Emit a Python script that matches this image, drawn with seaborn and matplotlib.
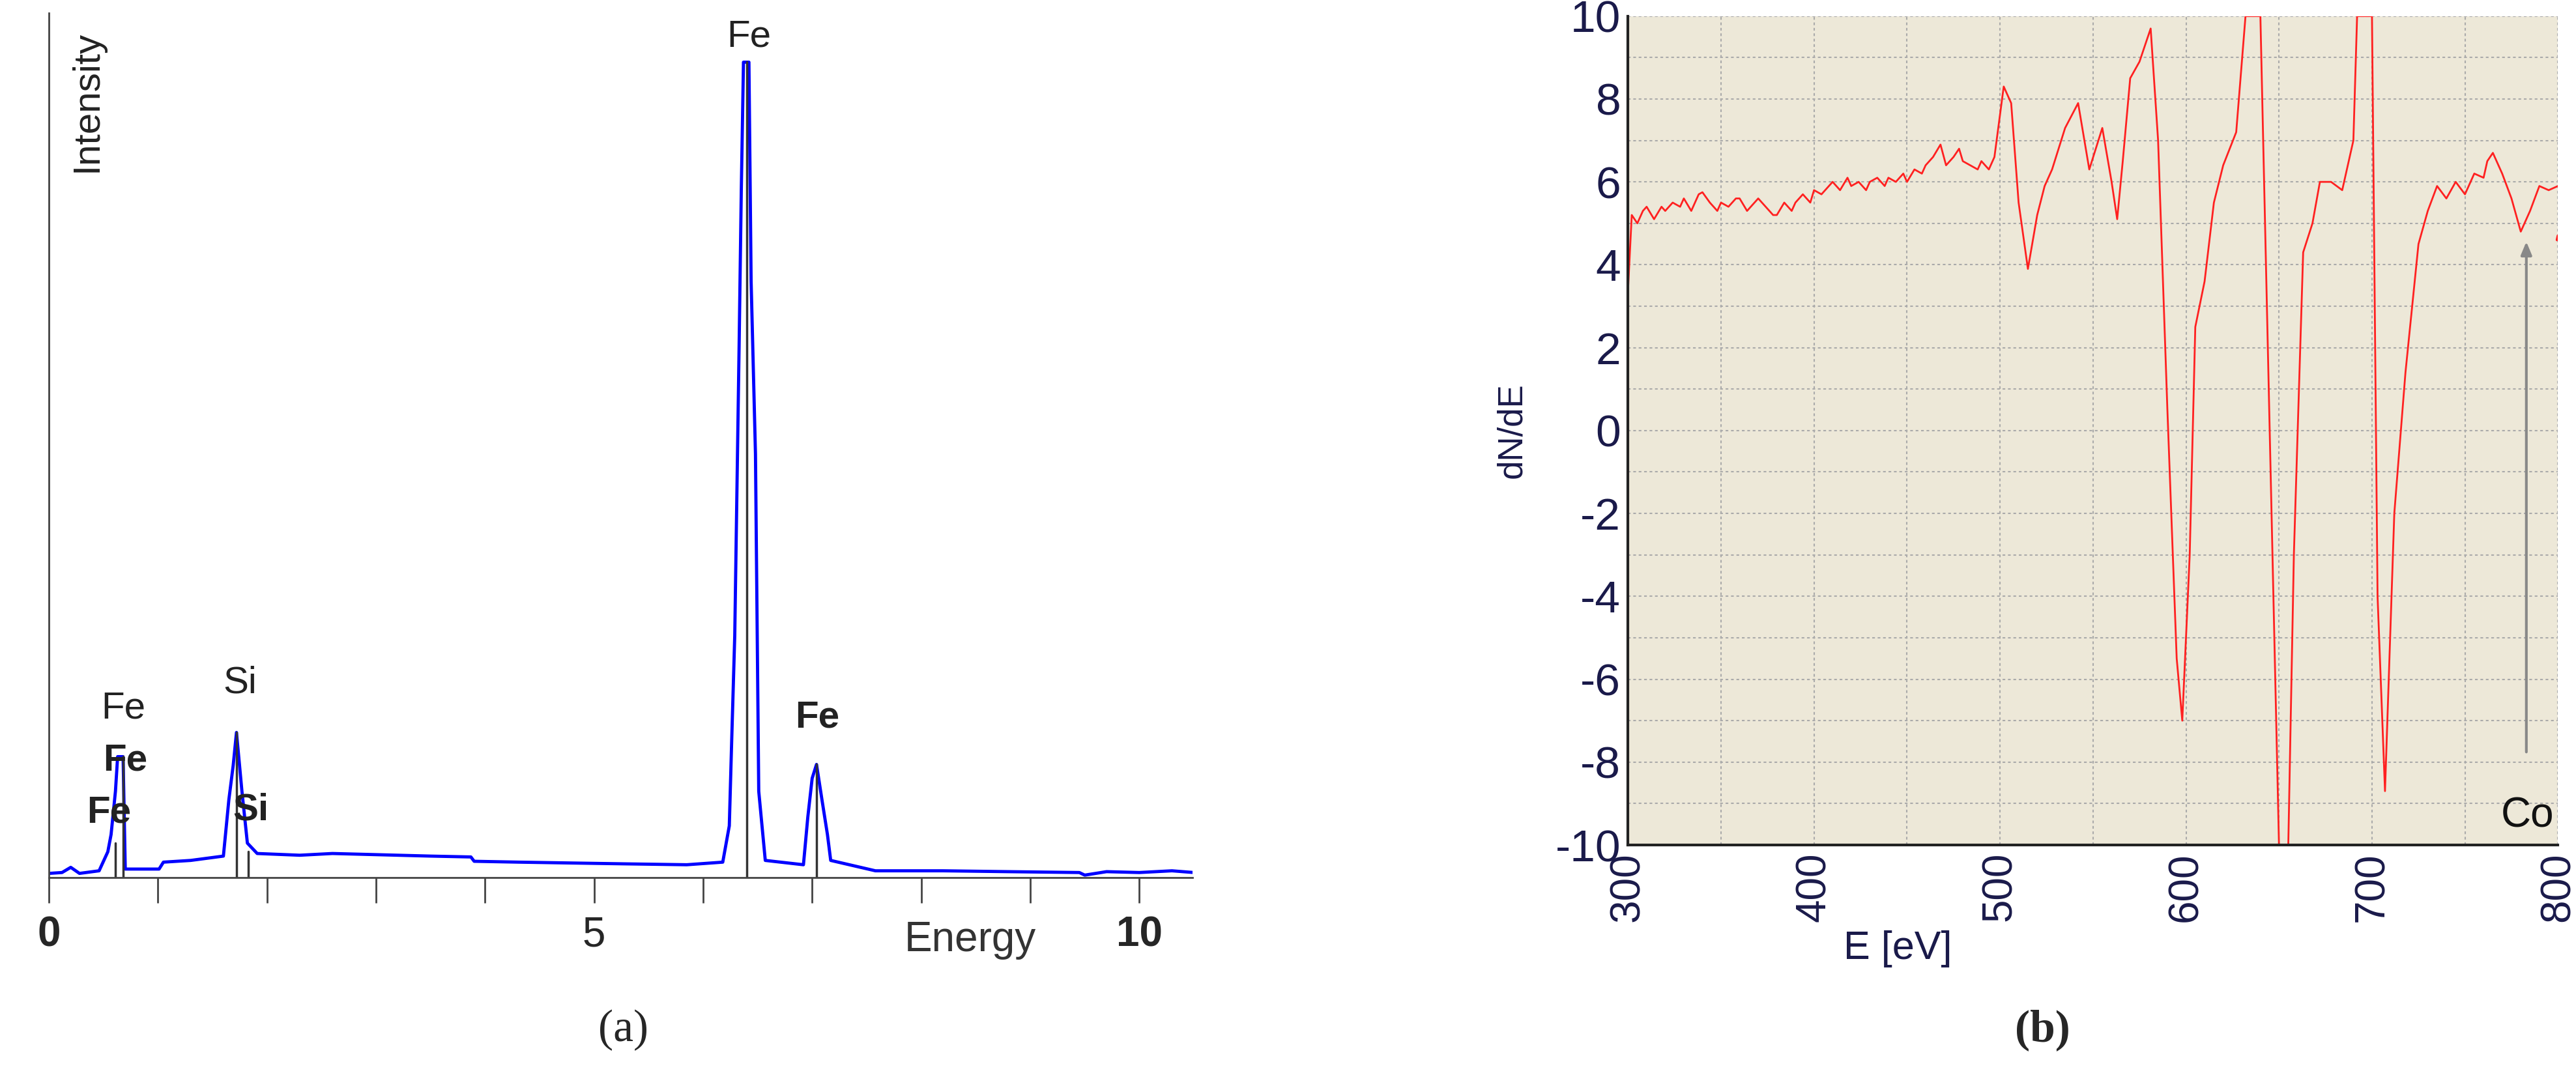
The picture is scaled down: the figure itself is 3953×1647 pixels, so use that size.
import numpy as np
import pandas as pd
import matplotlib
matplotlib.use("Agg")
import matplotlib.pyplot as plt
import seaborn as sns

sns.set_style("white")
plt.rcParams['font.family'] = ['Liberation Sans', 'DejaVu Sans']

# ---- Panel (a): EDS spectrum ----
eds_energy = [0.0, 0.12, 0.2, 0.28, 0.46, 0.54, 0.57, 0.61, 0.63, 0.68, 0.70, 1.01, 1.05, 1.3, 1.60, 1.65,
              1.69, 1.72, 1.77, 1.82, 1.91, 2.3, 2.6, 2.9, 3.2, 3.5, 3.87, 3.9, 4.31, 4.8, 5.3, 5.85, 6.18,
              6.24, 6.26, 6.29, 6.33, 6.35, 6.37, 6.42, 6.44, 6.48, 6.51, 6.57, 6.92, 6.96, 7.0, 7.04,
              7.09, 7.14, 7.17, 7.58, 8.2, 8.8, 9.45, 9.5, 9.7, 10.0, 10.3, 10.5]
eds_intensity = [0.005, 0.006, 0.012, 0.005, 0.008, 0.03, 0.05, 0.10, 0.14, 0.14, 0.01, 0.01, 0.018, 0.02,
                 0.025, 0.09, 0.13, 0.168, 0.10, 0.04, 0.028, 0.026, 0.028, 0.027, 0.026, 0.025, 0.024,
                 0.019, 0.018, 0.017, 0.016, 0.015, 0.018, 0.06, 0.15, 0.28, 0.615, 0.795, 0.943, 0.943,
                 0.69, 0.49, 0.10, 0.02, 0.015, 0.07, 0.115, 0.131, 0.09, 0.05, 0.02, 0.008, 0.008, 0.007,
                 0.006, 0.003, 0.007, 0.006, 0.008, 0.006]
marker_energy = [0.61, 0.68, 1.72, 1.83, 6.40, 7.04]
marker_height = [0.04, 0.14, 0.168, 0.03, 0.943, 0.131]
peak_labels = ["Fe", "Fe", "Fe", "Si", "Si", "Fe", "Fe"]
peak_label_x = [0.68, 0.70, 0.55, 1.75, 1.85, 6.42, 7.05]
peak_label_y = [0.175, 0.115, 0.055, 0.205, 0.058, 0.952, 0.165]
peak_label_w = ["normal", "semibold", "bold", "normal", "bold", "normal", "bold"]

# ---- Panel (b): AES spectrum ----
aes_energy = [300, 302, 305, 308, 310, 314, 318, 320, 324, 328, 330, 334, 338, 340, 344, 348, 350, 354, 358,
              360, 364, 368, 370, 374, 378, 380, 384, 388, 390, 394, 398, 400, 404, 408, 410, 414, 418, 420,
              424, 428, 430, 434, 438, 440, 444, 448, 450, 454, 458, 460, 464, 468, 471, 475, 478, 480, 484,
              488, 490, 494, 497, 502, 506, 510, 515, 520, 524, 528, 535, 542, 548, 555, 560, 563, 566, 570,
              575, 581, 585, 590, 595, 598, 602, 605, 610, 615, 620, 627, 632, 640, 645, 650, 655, 658, 663,
              668, 672, 678, 684, 690, 692, 700, 703, 707, 712, 718, 725, 730, 735, 740, 745, 750, 755, 760,
              762, 765, 770, 775, 780, 785, 790, 795, 800]
aes_dnde = [3.4, 5.2, 5.0, 5.3, 5.4, 5.1, 5.4, 5.3, 5.5, 5.4, 5.6, 5.3, 5.7, 5.75, 5.5, 5.3, 5.5, 5.4, 5.6,
            5.6, 5.3, 5.5, 5.6, 5.4, 5.2, 5.2, 5.5, 5.3, 5.5, 5.7, 5.5, 5.8, 5.7, 5.9, 6.0, 5.8, 6.1, 5.9,
            6.0, 5.8, 6.0, 6.1, 5.9, 6.1, 6.0, 6.2, 6.0, 6.3, 6.2, 6.4, 6.6, 6.9, 6.4, 6.6, 6.8, 6.5, 6.4,
            6.3, 6.5, 6.3, 6.6, 8.3, 7.9, 5.5, 3.9, 5.2, 5.9, 6.3, 7.3, 7.9, 6.3, 7.3, 6.0, 5.1, 6.5, 8.5,
            8.9, 9.7, 7.0, 0.5, -5.5, -7.0, -3.0, 2.5, 3.6, 5.5, 6.4, 7.2, 10.0, 10.0, 0.0, -10.0, -10.0,
            -3.0, 4.3, 5.0, 6.0, 6.0, 5.8, 7.0, 10.0, 10.0, -4.0, -8.7, -2.0, 1.4, 4.5, 5.3, 5.9, 5.6, 6.0,
            5.7, 6.2, 6.1, 6.5, 6.7, 6.2, 5.6, 4.8, 5.3, 5.9, 5.8, 5.9]
aes_tail_energy = [799.5, 800]
aes_tail_dnde = [4.6, 4.7]
aes_yticks = [-10, -8, -6, -4, -2, 0, 2, 4, 6, 8, 10]
aes_xticks = [300, 400, 500, 600, 700, 800]

fig = plt.figure(figsize=(39.53, 16.47), dpi=100)

# ---------- (a) ----------
ax = fig.add_axes([0.019, 0.182, 0.444, 0.806])
df_a = pd.DataFrame({"E": eds_energy, "I": eds_intensity})
sns.lineplot(data=df_a, x="E", y="I", ax=ax, color="#0000ff", lw=3.5, sort=False, estimator=None)
for e, h in zip(marker_energy, marker_height):
    ax.plot([e, e], [0, h], color="#333333", lw=2.5)
ax.set_xlim(0, 10.49)
ax.set_ylim(0, 1.0)
ax.set_xticks(range(0, 11))
ax.set_xticklabels(["0", "", "", "", "", "5", "", "", "", "", "10"])
for i, t in enumerate(ax.get_xticklabels()):
    t.set_fontweight("bold" if i in (0, 10) else "normal")
ax.tick_params(axis="x", direction="out", length=28, width=2, labelsize=46, color="#444444", pad=14,
               bottom=True)
ax.set_yticks([])
ax.set_xlabel("")
ax.set_ylabel("")
for s in ("top", "right"):
    ax.spines[s].set_visible(False)
for s in ("left", "bottom"):
    ax.spines[s].set_color("#444444")
    ax.spines[s].set_linewidth(2)
ax.text(0.35, 0.98, "Intensity", rotation=90, ha="center", va="top", fontsize=42, color="#222222")
ax.text(8.45, -0.072, "Energy", ha="center", va="center", fontsize=46, color="#333333")
for lab, x, y, w in zip(peak_labels, peak_label_x, peak_label_y, peak_label_w):
    ax.text(x, y, lab, ha="center", va="bottom", fontsize=42, fontweight=w, color="#222222")
fig.text(0.242, 0.04, "(a)", ha="center", va="center", fontsize=50, family="Liberation Serif")

# ---------- (b) ----------
bx = fig.add_axes([0.632, 0.2125, 0.361, 0.7725])
bx.set_facecolor("#ede8d8")
df_b = pd.DataFrame({"E": aes_energy, "d": aes_dnde})
sns.lineplot(data=df_b, x="E", y="d", ax=bx, color="#ff2020", lw=2, sort=False, estimator=None)
df_t = pd.DataFrame({"E": aes_tail_energy, "d": aes_tail_dnde})
sns.lineplot(data=df_t, x="E", y="d", ax=bx, color="#ff2020", lw=3, sort=False, estimator=None)
bx.set_xlim(300, 800)
bx.set_ylim(-10, 10)
bx.set_xticks(np.arange(300, 801, 50))
bx.set_xticklabels([str(v) if v in aes_xticks else "" for v in np.arange(300, 801, 50)])
bx.set_yticks(np.arange(-10, 11, 1))
bx.set_yticklabels([str(v) if v in aes_yticks else "" for v in range(-10, 11)])
bx.grid(True, color="#aaaaaa", ls=(0, (2, 2)), lw=1.5)
bx.tick_params(axis="y", length=0, labelsize=50, labelcolor="#1a1a4a", pad=8)
bx.tick_params(axis="x", length=0, labelsize=46, labelcolor="#1a1a4a", pad=8)
for t in bx.get_xticklabels():
    t.set_rotation(90)
bx.set_xlabel("")
bx.set_ylabel("dN/dE", fontsize=38, color="#1a1a4a", labelpad=30)
for s in ("top", "right"):
    bx.spines[s].set_visible(False)
for s in ("left", "bottom"):
    bx.spines[s].set_color("#222222")
    bx.spines[s].set_linewidth(3)
bx.annotate("", xy=(783, 4.6), xytext=(783, -7.8),
            arrowprops=dict(arrowstyle="-|>,head_length=1.2,head_width=0.5", color="#888888", lw=3))
bx.text(798, -9.3, "Co", ha="right", va="center", fontsize=46, color="#111111")
bx.text(445, -12.5, "E [eV]", ha="center", va="center", fontsize=44, color="#1a1a4a")
fig.text(0.793, 0.04, "(b)", ha="center", va="center", fontsize=50, family="Liberation Serif",
         fontweight="bold")

fig.savefig("out.png", dpi=100)
